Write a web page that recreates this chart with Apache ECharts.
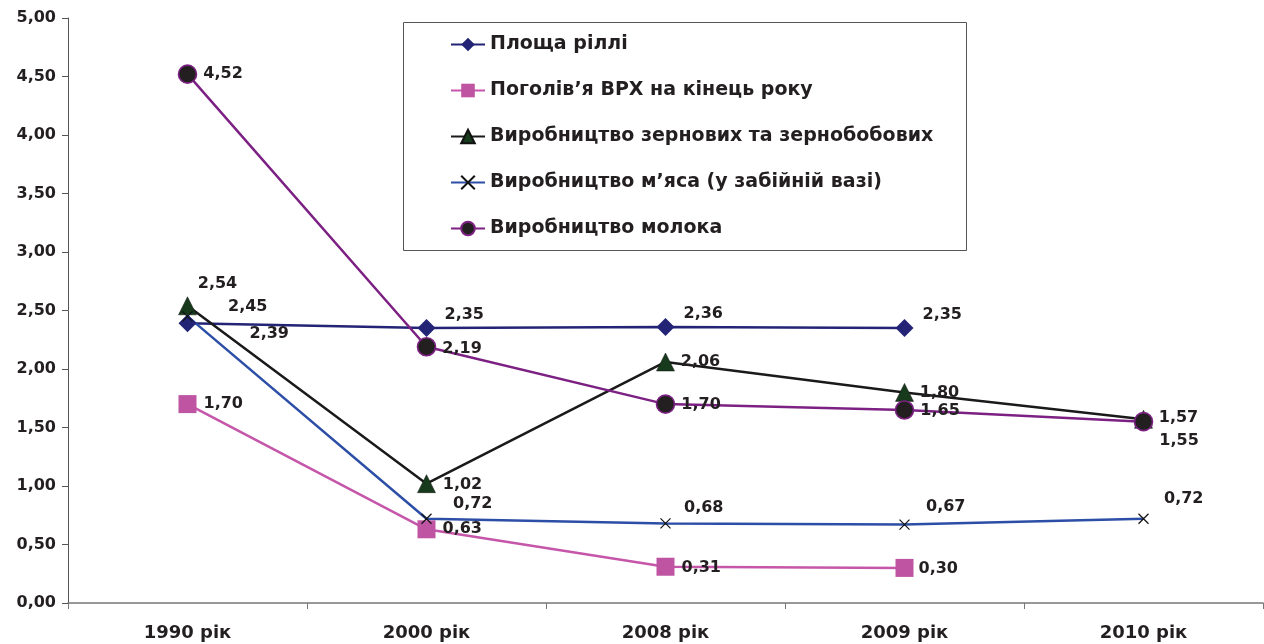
<!DOCTYPE html>
<html>
<head>
<meta charset="utf-8">
<script src="https://cdn.jsdelivr.net/npm/echarts@6/dist/echarts.min.js"></script>
<style>
  html, body { margin: 0; padding: 0; background: #fff; }
  #chart { width: 1264px; height: 644px; }
</style>
</head>
<body>
<div id="chart"></div>
<script>
  'use strict'

  var years = ['1990 рік', '2000 рік', '2008 рік', '2009 рік', '2010 рік'];
  var seriesNames = [
    'Площа ріллі',
    'Поголів’я ВРХ на кінець року',
    'Виробництво зернових та зернобобових',
    'Виробництво м’яса (у забійній вазі)',
    'Виробництво молока'
  ];
  var arable = [2.39, 2.35, 2.36, 2.35, null];
  var cattle = [1.70, 0.63, 0.31, 0.30, null];
  var grain = [2.54, 1.02, 2.06, 1.80, 1.57];
  var meat = [2.45, 0.72, 0.68, 0.67, 0.72];
  var milk = [4.52, 2.19, 1.70, 1.65, 1.55];

  // label offsets (styling only)
  var arableOff = [[48, 10], [4, -13], [4, -13], [4, -13], [0, 0]];
  var cattleOff = [[2, 0], [2, 0], [2, 1], [0, 1], [0, 0]];
  var grainOff = [[-4, -22], [2, 1], [1, 0], [1, 0], [1, -1]];
  var meatOff = [[28, -10], [14, -15], [6, -16], [9, -18], [8, -20]];
  var milkOff = [[1, 0], [1, 2], [1, 1], [1, 1], [1, 19]];

  var FONT = 'DejaVu Sans, Verdana, sans-serif';

  function fmt(v) { return v.toFixed(2).replace('.', ','); }

  function buildData(vals, offs) {
    return vals.map(function (v, i) {
      if (v === null) return null;
      return { value: v, label: { offset: offs[i] } };
    });
  }

  var labelStyle = {
    show: true,
    position: 'right',
    distance: 5,
    fontFamily: FONT,
    fontWeight: 'bold',
    fontSize: 16,
    color: '#231f20',
    formatter: function (p) { return fmt(p.value); }
  };

  function lineSeries(name, vals, offs, color, symbol, size, itemStyle) {
    return {
      name: name,
      type: 'line',
      data: buildData(vals, offs),
      symbol: symbol,
      symbolSize: size,
      showAllSymbol: true,
      connectNulls: false,
      lineStyle: { color: color, width: 2.5 },
      itemStyle: itemStyle,
      label: labelStyle,
      emphasis: { disabled: true },
      z: 2
    };
  }

  var series = [
    lineSeries(seriesNames[0], arable, arableOff, '#232476', 'diamond', 18,
      { color: '#232476' }),
    lineSeries(seriesNames[1], cattle, cattleOff, '#c556aa', 'rect', 18,
      { color: '#bf54a2' }),
    lineSeries(seriesNames[2], grain, grainOff, '#1a1a1a', 'triangle', 18,
      { color: '#173a1c', borderColor: '#111', borderWidth: 0.5 }),
    lineSeries(seriesNames[3], meat, meatOff, '#2c4ea6', 'path://M0,0L10,10M10,0L0,10', 10,
      { color: 'none', borderColor: '#111', borderWidth: 1.2 }),
    lineSeries(seriesNames[4], milk, milkOff, '#7c2183', 'circle', 18,
      { color: '#231f20', borderColor: '#7c2183', borderWidth: 1.6 })
  ];

  var option = {
    animation: false,
    backgroundColor: '#fff',
    grid: { left: 68, right: 1, top: 18, bottom: 41, containLabel: false },
    graphic: [{
      type: 'rect',
      left: 403, top: 22,
      shape: { width: 563, height: 228 },
      style: { fill: '#fff', stroke: '#555', lineWidth: 1 },
      z: 0
    }],
    legend: {
      orient: 'vertical',
      left: 445,
      top: 30,
      itemWidth: 34,
      itemHeight: 17,
      itemGap: 27,
      data: seriesNames,
      textStyle: {
        fontFamily: FONT,
        fontWeight: 'bold',
        fontSize: 19,
        color: '#231f20'
      },
      z: 3
    },
    xAxis: {
      type: 'category',
      data: years,
      boundaryGap: true,
      axisLine: { lineStyle: { color: '#777', width: 1.5 } },
      axisTick: { show: true, length: 6, lineStyle: { color: '#777' } },
      axisLabel: {
        margin: 21,
        fontFamily: FONT,
        fontWeight: 'bold',
        fontSize: 18,
        color: '#231f20'
      },
      splitLine: { show: false }
    },
    yAxis: {
      type: 'value',
      min: 0,
      max: 5,
      interval: 0.5,
      axisLine: { show: true, lineStyle: { color: '#555' } },
      axisTick: { show: true, length: 6, lineStyle: { color: '#555' } },
      axisLabel: {
        margin: 12,
        fontFamily: FONT,
        fontWeight: 'bold',
        fontSize: 16,
        color: '#231f20',
        formatter: fmt
      },
      splitLine: { show: false }
    },
    series: series
  };

  var chart = echarts.init(document.getElementById('chart'));
  chart.setOption(option);
</script>
</body>
</html>
